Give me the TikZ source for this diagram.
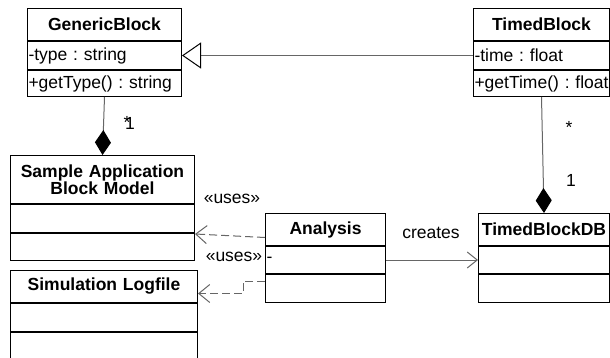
\documentclass[tikz,border=0pt]{standalone}
\usepackage{fontspec}
\setmainfont{Liberation Sans}
\usepackage{tikz}
\usetikzlibrary{arrows.meta}
\usetikzlibrary{positioning}
\frenchspacing
\newcommand\umlfont{\fontsize{17.5}{16.5}\selectfont}

\tikzset{
  head/.style={draw, line width=1pt, font=\umlfont\bfseries, text width=#1, align=center,
    minimum height=32pt, inner xsep=1pt, inner ysep=0pt, anchor=north west},
  member/.style={draw, line width=1pt, text width=#1, align=left,
    minimum height=28pt, inner xsep=1pt, inner ysep=0pt, below=0pt},
  link/.style={draw=black!60, line width=1pt},
  uses/.style={link, dash pattern=on 8pt off 4pt, -{Straight Barb[length=11pt,width=18pt]}},
  inherit/.style={link, -{Triangle[open, length=19pt, width=26pt, fill=white, color=black]}},
  compose/.style={link, -{Diamond[length=25pt, width=16pt, color=black]}},
  lbl/.style={inner sep=0pt}
}

\begin{document}
\begin{tikzpicture}[x=1pt, y=-1pt, font=\umlfont]
\useasboundingbox (0,0) rectangle (610,358);

% classes
\node[head=152pt] (gb) at (27,8) {GenericBlock};
\node[member=152pt, below=0pt of gb] (gb1) {-type : string};
\node[member=152pt, below=0pt of gb1, minimum height=26pt] (gb2) {+getType() : string};

\node[head=134pt] (tb) at (473,8) {TimedBlock};
\node[member=134pt, below=0pt of tb] (tb1) {-time : float};
\node[member=134pt, below=0pt of tb1, minimum height=26pt] (tb2) {\mbox{+getTime() : float}};

\node[head=182pt, minimum height=48pt] (sa) at (10,155) {Sample Application\\Block Model};
\node[member=182pt, below=0pt of sa] (sa1) {};
\node[member=182pt, below=0pt of sa1, minimum height=27pt] (sa2) {};

\node[head=185pt] (sl) at (10,270) {Simulation Logfile};
\node[member=185pt, below=0pt of sl] (sl1) {};
\node[member=185pt, below=0pt of sl1, minimum height=27pt] (sl2) {};

\node[head=118pt] (an) at (265,213) {Analysis};
\node[member=118pt, below=0pt of an, minimum height=27pt] (an1) {-};
\node[member=118pt, below=0pt of an1] (an2) {};

\node[head=129pt] (db) at (478,213) {TimedBlockDB};
\node[member=129pt, below=0pt of db, minimum height=27pt] (db1) {};
\node[member=129pt, below=0pt of db1] (db2) {};

% connectors
\draw[inherit] (tb1.west) -- (gb1.east);
\draw[compose] (gb2.south) -- (sa.north);
\draw[compose] (tb2.south) -- (db.north);
\draw[uses] ([yshift=-8pt]an.west) -- ([yshift=-1pt]sa1.south east);
\draw[uses] ([yshift=-7pt]an2.north west) -- ++(-22,0) |- ([yshift=-7pt]sl.east);
\draw[link, -{Straight Barb[length=10pt,width=16pt]}] (an1.east) -- (db1.west);

% labels
\node[lbl] (m1) at (127,122) {*};
\node[lbl] (m2) at (130,123) {1};
\node[lbl] (m3) at (569,127) {*};
\node[lbl] (m4) at (571,180) {1};
\node[lbl] (u1) at (232,199) {«uses»};
\node[lbl] (u2) at (234,257) {«uses»};
\node[lbl] (cr) at (431,233) {creates};
\end{tikzpicture}
\end{document}
